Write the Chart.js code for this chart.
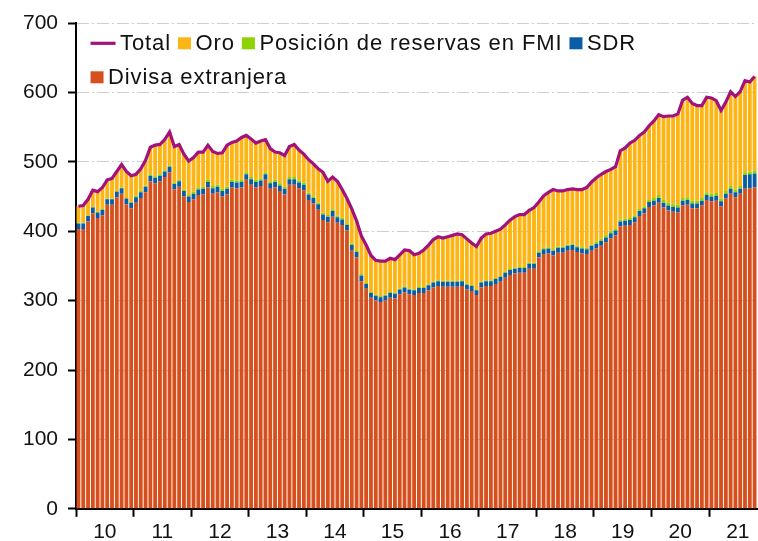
<!DOCTYPE html>
<html>
<head>
<meta charset="utf-8">
<script src="https://cdn.jsdelivr.net/npm/chart.js@4.4.1/dist/chart.umd.min.js"></script>
<style>
html,body{margin:0;padding:0;background:#fff;}
#wrap{width:758px;height:541px;position:relative;}
</style>
</head>
<body>
<div id="wrap"><canvas id="c" width="758" height="541"></canvas></div>
<script>
// ---- tick labels (years) ----
const yearLabels = ['10','11','12','13','14','15','16','17','18','19','20','21'];

// ---- categories: monthly, Jan 2010 .. Oct 2021 ----
const months = [];
for (let y = 2010; y <= 2021; y++) {
  for (let m = 1; m <= 12; m++) {
    if (y === 2021 && m > 10) break;
    months.push(y + '-' + String(m).padStart(2, '0'));
  }
}

// ---- series (USD bn) ----
const total = [
  436,437,446,459,457,463,474,476,486,496,486,480,
  482,490,502,521,524,525,532,543,522,525,511,501,
  506,514,514,524,515,512,513,524,528,530,535,538,
  533,527,530,532,519,514,513,509,522,525,517,511,
  503,497,490,485,472,478,472,460,447,432,415,393,
  380,365,358,357,357,361,359,366,373,372,366,368,
  373,380,388,392,390,392,394,396,395,389,383,378,
  390,396,397,400,403,409,416,421,424,424,430,434,
  442,451,456,460,458,458,460,461,460,460,463,471,
  477,482,486,489,493,516,520,527,531,538,543,552,
  559,568,565,566,566,569,589,593,584,581,581,593,
  592,588,574,586,601,594,601,617,615,623
];
const divisa = [
  403,403,414,426,419,423,438,438,449,454,439,433,
  441,448,456,472,469,472,478,485,460,464,450,442,
  446,452,453,463,454,456,450,453,463,462,463,474,
  467,463,465,474,461,463,458,453,467,467,462,459,
  445,440,431,416,413,421,412,409,401,372,362,328,
  317,304,300,298,300,304,303,309,312,309,308,311,
  311,315,319,321,320,320,320,320,321,316,314,308,
  319,321,321,324,327,333,337,339,340,340,346,346,
  362,367,368,365,369,369,372,373,370,368,367,372,
  375,379,384,390,394,407,408,409,413,422,426,435,
  437,441,434,430,428,427,437,438,433,433,437,445,
  443,444,436,447,454,449,454,461,462,463
];
const sdr = [
  8,8,8,8,8,8,8,8,8,8,8,8,
  8,8,8,8,8,8,8,8,8,8,8,8,
  8,8,8,8,8,8,8,8,8,8,8,8,
  8,8,8,8,8,8,8,8,8,8,8,8,
  8,8,8,8,8,8,8,8,8,8,8,8,
  7,7,7,7,7,7,7,7,7,7,7,7,
  7,7,7,7,7,7,7,7,7,7,7,7,
  7,7,7,7,7,7,7,7,7,7,7,7,
  7,7,7,7,7,7,7,7,7,7,7,7,
  7,7,7,7,7,7,7,7,7,7,7,7,
  7,7,7,7,7,7,7,7,7,7,7,7,
  7,7,7,7,7,7,7,20,20,20
];
const fmi = [
  1,1,1,1,1,1,1,1,1,1,1,1,
  2,2,2,2,2,2,2,2,2,2,2,2,
  3,3,3,3,3,3,3,3,3,3,3,3,
  3,3,3,3,3,3,3,3,3,3,3,3,
  2.5,2.5,2.5,2.5,2.5,2.5,2.5,2.5,2.5,2.5,2.5,2.5,
  1.5,1.5,1.5,1.5,1.5,1.5,1.5,1.5,1.5,1.5,1.5,1.5,
  1.5,1.5,1.5,1.5,1.5,1.5,1.5,1.5,1.5,1.5,1.5,1.5,
  1.5,1.5,1.5,1.5,1.5,1.5,1.5,1.5,1.5,1.5,1.5,1.5,
  2,2,2,2,2,2,2,2,2,2,2,2,
  3,3,3,3,3,3,3,3,3,3,3,3,
  4,4,4,4,4,4,4,4,4,4,4,4,
  4,4,4,4,4,4,4,4,4,4
];
const oro = [
  24,25,23,24,29,31,27,29,28,33,38,38,
  31,32,36,39,45,43,44,48,52,51,51,49,
  49,51,50,50,50,45,52,60,54,57,61,53,
  55,53,54,47,47,40,44,45,44,47,44,41,
  47.5,46.5,48.5,58.5,48.5,46.5,49.5,40.5,35.5,49.5,42.5,54.5,
  54.5,52.5,49.5,50.5,48.5,48.5,47.5,48.5,52.5,54.5,49.5,48.5,
  53.5,56.5,60.5,62.5,61.5,63.5,65.5,67.5,65.5,64.5,60.5,61.5,
  62.5,66.5,67.5,67.5,67.5,67.5,70.5,73.5,75.5,75.5,75.5,79.5,
  71,75,79,86,80,80,79,79,81,83,87,90,
  92,93,92,89,89,99,102,108,108,106,107,107,
  111,116,120,125,127,131,141,144,140,137,133,137,
  138,133,127,128,136,134,136,132,129,136
];

const COLORS = {
  total: '#a3117d',
  oro: '#fcb514',
  fmi: '#8dd300',
  sdr: '#0b5ca6',
  divisa: '#d6501e'
};
const legendOrder = ['Total', 'Oro', 'Posición de reservas en FMI', 'SDR', 'Divisa extranjera'];

const inlineLegend = {
  id: 'inlineLegend',
  afterDraw(chart, args, opts) {
    const {ctx, chartArea} = chart;
    const items = Chart.defaults.plugins.legend.labels.generateLabels(chart)
      .sort((a, b) => legendOrder.indexOf(a.text) - legendOrder.indexOf(b.text));
    ctx.save();
    ctx.font = opts.font;
    ctx.textBaseline = 'alphabetic';
    ctx.textAlign = 'left';
    const hasLS = ('letterSpacing' in ctx);
    const ls = hasLS ? opts.letterSpacing : 0;
    const x0 = chartArea.left + opts.left;
    let x = x0;
    let base = chartArea.top + opts.top;
    items.forEach(it => {
      const ds = chart.data.datasets[it.datasetIndex];
      const isLine = ds.type === 'line';
      const mw = isLine ? opts.lineLength : opts.boxWidth;
      if (hasLS) ctx.letterSpacing = '0px';
      const tw = ctx.measureText(it.text).width + ls * it.text.length;
      if (x > x0 && x + mw + opts.gap + tw > chartArea.right - 2) {
        x = x0;
        base += opts.rowHeight;
      }
      if (isLine) {
        ctx.strokeStyle = ds.borderColor;
        ctx.lineWidth = ds.borderWidth;
        ctx.beginPath();
        ctx.moveTo(x, base - 6.5);
        ctx.lineTo(x + mw, base - 6.5);
        ctx.stroke();
      } else {
        ctx.fillStyle = ds.backgroundColor;
        ctx.fillRect(x, base - 12.5, mw, opts.boxHeight);
      }
      x += mw + opts.gap;
      ctx.fillStyle = '#111';
      if (hasLS) ctx.letterSpacing = ls + 'px';
      ctx.fillText(it.text, x, base);
      x += tw + opts.itemGap;
    });
    ctx.restore();
  }
};

Chart.defaults.font.family = '"Liberation Sans", Arial, Helvetica, sans-serif';
Chart.defaults.font.size = 21;
Chart.defaults.color = '#111';

new Chart(document.getElementById('c'), {
  type: 'bar',
  data: {
    labels: months,
    datasets: [
      { type: 'line', label: 'Total', data: total, borderColor: COLORS.total, backgroundColor: COLORS.total,
        borderWidth: 3.2, pointRadius: 0, tension: 0, stack: 'line', order: 0 },
      { label: 'Divisa extranjera', data: divisa, backgroundColor: COLORS.divisa, stack: 'bars', order: 1 },
      { label: 'SDR', data: sdr, backgroundColor: COLORS.sdr, stack: 'bars', order: 1 },
      { label: 'Posición de reservas en FMI', data: fmi, backgroundColor: COLORS.fmi, stack: 'bars', order: 1 },
      { label: 'Oro', data: oro, backgroundColor: COLORS.oro, stack: 'bars', order: 1 }
    ]
  },
  options: {
    responsive: false,
    animation: false,
    devicePixelRatio: 1,
    layout: { padding: { left: 13, right: 1, top: 23, bottom: -7 } },
    datasets: { bar: { barPercentage: 0.8, categoryPercentage: 1.0 } },
    scales: {
      x: {
        stacked: true,
        offset: true,
        grid: {
          offset: true,
          drawOnChartArea: false,
          drawTicks: true,
          tickLength: 8,
          tickWidth: 2,
          tickColor: (c) => (c.index % 12 === 0 ? '#000' : 'rgba(0,0,0,0)')
        },
        border: { display: true, color: '#000', width: 2 },
        ticks: {
          autoSkip: false, maxRotation: 0, minRotation: 0,
          padding: 3, labelOffset: -2.4, color: '#111',
          callback: (v, i) => (i % 12 === 6 ? yearLabels[Math.floor(i / 12)] : '')
        }
      },
      y: {
        stacked: true,
        min: 0, max: 700,
        ticks: { stepSize: 100, padding: 10, color: '#111' },
        grid: {
          color: (c) => (c.tick && c.tick.value === 0 ? 'rgba(0,0,0,0)' : '#cfcfcf'),
          lineWidth: 1,
          tickLength: 8,
          tickWidth: 2,
          tickColor: '#000'
        },
        border: { display: true, color: '#000', width: 2, dash: [12, 3, 2, 3] }
      }
    },
    plugins: {
      legend: { display: false },
      tooltip: { enabled: false },
      inlineLegend: {
        font: '22px "Liberation Sans", Arial, sans-serif',
        letterSpacing: 0.9,
        left: 14.5, top: 26.8, rowHeight: 34,
        lineLength: 25, boxWidth: 13, boxHeight: 12, gap: 4.5, itemGap: 7
      }
    }
  },
  plugins: [inlineLegend]
});
</script>
</body>
</html>
